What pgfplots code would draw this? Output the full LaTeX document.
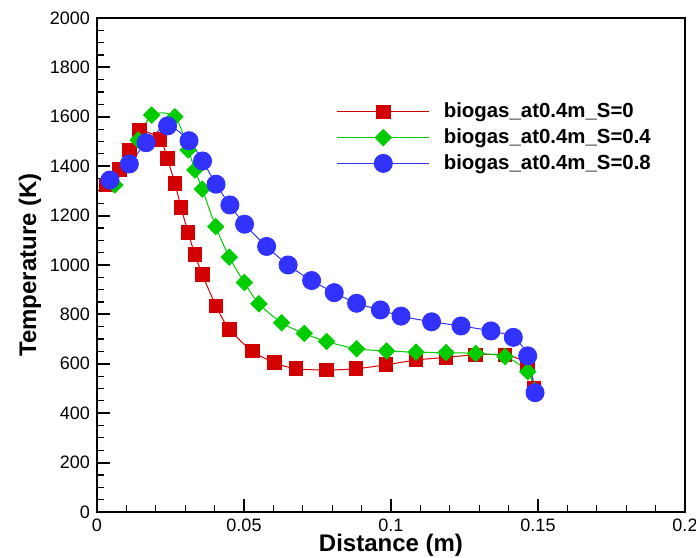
\documentclass[border=0pt]{standalone}
\usepackage{fontspec}
\setmainfont{Liberation Sans}
\usepackage{pgfplots}
\pgfplotsset{compat=1.18}
\definecolor{cred}{RGB}{210,0,0}
\definecolor{cgreen}{RGB}{0,204,0}
\definecolor{cblue}{RGB}{50,50,255}
\begin{document}
\begin{tikzpicture}
\begin{axis}[
  scale only axis, width=294pt, height=247pt,
  xmin=0, xmax=0.2, ymin=0, ymax=2000,
  xtick={0,0.05,0.1,0.15,0.2}, ytick={0,200,...,2000},
  minor x tick num=4, minor y tick num=3,
  tick align=inside, tick pos=left,
  major tick length=6.5pt, minor tick length=3.5pt,
  every major tick/.style={black, line width=1pt},
  every minor tick/.style={black, line width=0.6pt},
  axis line style={line width=1.2pt},
  tick label style={font=\fontsize{9}{10}\selectfont},
  /pgf/number format/assume math mode=true,
  scaled x ticks=false,
  xticklabel={\pgfmathprintnumber[fixed,precision=2]{\tick}},
  yticklabel style={/pgf/number format/1000 sep={}},
  xlabel={Distance (m)}, ylabel={Temperature (K)},
  every axis x label/.style={at={(axis description cs:0.5,-0.067)}, anchor=center, font=\bfseries\fontsize{12}{14}\selectfont},
  every axis y label/.style={at={(axis description cs:-0.114,0.5)}, rotate=90, anchor=center, font=\bfseries\fontsize{12}{14}\selectfont},
  legend style={at={(0.397,0.845)}, anchor=north west, draw=none, fill=none,
    font=\bfseries\fontsize{10.2}{12}\selectfont, row sep=0pt,
    /tikz/every odd column/.append style={column sep=5pt}},
  legend cell align=left,
  legend image code/.code={\draw[mark repeat=2,mark phase=2] plot coordinates {(0pt,0pt) (23pt,0pt) (46pt,0pt)};},
]
\addplot[cred, line width=0.5pt, smooth, mark=square*, mark size=3.4pt, mark options={solid, fill=cred, draw=cred}] coordinates {
(0.003,1324) (0.0076,1387) (0.011,1466) (0.0144,1544) (0.0214,1509) (0.0239,1430)
(0.0265,1331) (0.0286,1232) (0.031,1131) (0.0333,1043) (0.0358,962) (0.0405,834)
(0.045,740) (0.0528,652) (0.0604,604) (0.0677,580) (0.0781,575) (0.0881,580)
(0.0983,596) (0.1085,615) (0.1187,626) (0.1288,636) (0.1388,636) (0.1464,599) (0.1486,501)
};
\addlegendentry{biogas\_at0.4m\_S=0}
\addplot[cgreen, line width=0.5pt, smooth, mark=square*, mark size=2.85pt, mark options={solid, fill=cgreen, draw=cgreen, rotate=45}] coordinates {
(0.0061,1324) (0.014,1506) (0.0186,1607) (0.0265,1600) (0.031,1466) (0.0333,1385)
(0.0358,1307) (0.0404,1155) (0.045,1032) (0.0501,929) (0.0551,843) (0.0628,766)
(0.0705,723) (0.0781,690) (0.0883,661) (0.0985,652) (0.1085,647) (0.1187,645)
(0.1288,642) (0.1388,629) (0.1465,568) (0.1488,492)
};
\addlegendentry{biogas\_at0.4m\_S=0.4}
\addplot[cblue, line width=0.5pt, smooth, mark=*, mark size=4.5pt, mark options={solid, fill=cblue, draw=cblue}] coordinates {
(0.0044,1344) (0.011,1409) (0.0167,1495) (0.024,1563) (0.0313,1503) (0.0359,1421)
(0.0405,1327) (0.0452,1243) (0.0502,1165) (0.0577,1075) (0.065,1000) (0.073,937)
(0.0807,888) (0.0883,845) (0.0964,818) (0.1034,793) (0.1138,770) (0.1238,753)
(0.134,733) (0.1416,707) (0.1465,632) (0.149,483)
};
\addlegendentry{biogas\_at0.4m\_S=0.8}
\end{axis}
\pgfresetboundingbox
\path ([shift={(-48.5pt,-23pt)}]current axis.south west) rectangle ([shift={(5.5pt,9pt)}]current axis.north east);
\end{tikzpicture}
\end{document}
